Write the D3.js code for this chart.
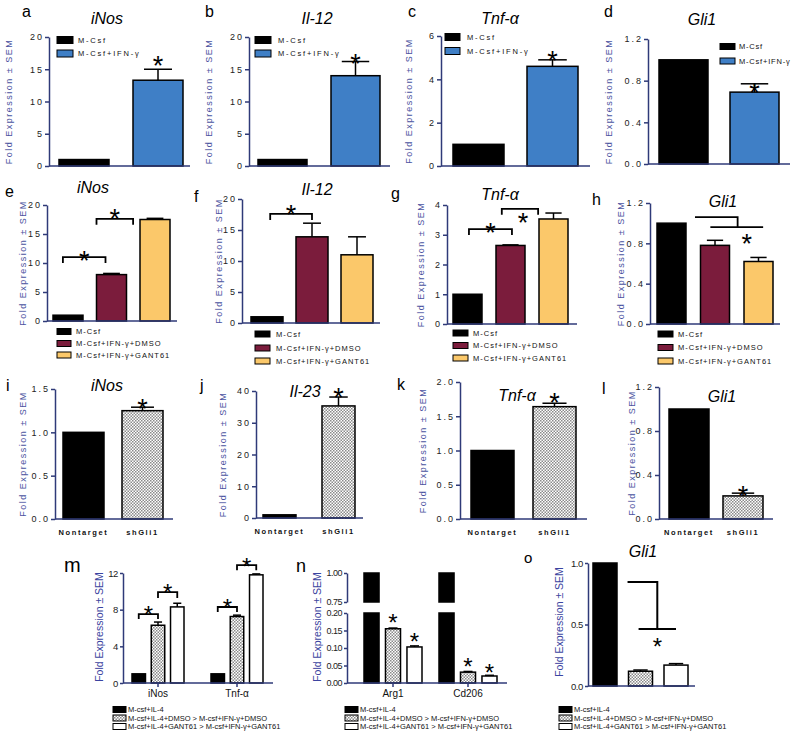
<!DOCTYPE html>
<html><head><meta charset="utf-8">
<script src="https://cdn.jsdelivr.net/npm/d3@7"></script>
<style>body{margin:0;background:#fff} svg{display:block}</style>
</head><body>
<script>
// ---------------- data ----------------
const catsAD = ["M-Csf", "M-Csf+IFN-γ"];
const catsEH = ["M-Csf", "M-Csf+IFN-γ+DMSO", "M-Csf+IFN-γ+GANT61"];
const catsIL = ["Nontarget", "shGli1"];
const seriesMO = ["M-csf+IL-4", "M-csf+IL-4+DMSO > M-csf+IFN-γ+DMSO", "M-csf+IL-4+GANT61 > M-csf+IFN-γ+GANT61"];
const genesM = ["iNos", "Tnf-α"];
const genesN = ["Arg1", "Cd206"];

const aMean = [1, 13.3], aSem = [0, 1.7];
const bMean = [1, 14.0], bSem = [0, 2.2];
const cMean = [1, 4.6], cSem = [0, 0.3];
const dMean = [1, 0.69], dSem = [0, 0.08];
const eMean = [1, 8.0, 17.5], eSem = [0, 0.2, 0.2];
const fMean = [1, 13.9, 11.0], fSem = [0, 2.2, 2.9];
const gMean = [1, 2.64, 3.53], gSem = [0, 0.02, 0.2];
const hMean = [1, 0.78, 0.62], hSem = [0, 0.05, 0.04];
const iMean = [1, 1.25], iSem = [0, 0.04];
const jMean = [1, 35.3], jSem = [0, 2.8];
const kMean = [1, 1.64], kSem = [0, 0.05];
const lMean = [1, 0.21], lSem = [0, 0.025];
const mIL4 = [1, 1], mDMSO = [6.3, 7.25], mGANT = [8.3, 11.8];
const mIL4Sem = [0, 0], mDMSOSem = [0.35, 0.15], mGANTSem = [0.4, 0.1];
const nIL4 = [1, 1], nDMSO = [0.155, 0.031], nGANT = [0.103, 0.02];
const nIL4Sem = [0, 0], nDMSOSem = [0.002, 0.002], nGANTSem = [0.003, 0.002];
const oMean = [1, 0.12, 0.17], oSem = [0, 0.01, 0.012];

const ticks20 = [0, 5, 10, 15, 20], ticks6 = [0, 2, 4, 6], ticks12 = [0, 0.4, 0.8, 1.2], ticks4 = [0, 1, 2, 3, 4];
const ticks15 = [0, 0.5, 1, 1.5], ticks40 = [0, 10, 20, 30, 40], ticks2 = [0, 0.5, 1, 1.5, 2];
const ticksM = [0, 4, 8, 12], ticksNlow = [0, 0.05, 0.1, 0.15, 0.2], ticksNhigh = [0.75, 1.0], ticksO = [0, 0.5, 1];

// ---------------- style ----------------
const FONT = "'Liberation Sans', Arial, Helvetica, sans-serif";
const AXIS = "#2f3a78", YLAB = "#4a52a0";
const BLUE = "#3f7fc6", MAROON = "#7b1c3c", YELLOW = "#fbc86a", CHK = "url(#chk)";
const YTXT = "Fold Expression ± SEM";

const svg = d3.select("body").append("svg").attr("width", 800).attr("height", 733).style("font-family", FONT);
const defs = svg.append("defs");
const pat = defs.append("pattern").attr("id", "chk").attr("patternUnits", "userSpaceOnUse").attr("width", 3).attr("height", 3);
pat.append("rect").attr("width", 3).attr("height", 3).attr("fill", "#fff");
pat.append("rect").attr("width", 1.5).attr("height", 1.5).attr("fill", "#8a8a8a");
pat.append("rect").attr("x", 1.5).attr("y", 1.5).attr("width", 1.5).attr("height", 1.5).attr("fill", "#8a8a8a");

function bandFor(cats, x0, x1, w) {
  const n = cats.length, gap = ((x1 - x0) - n * w) / (n - 1), p = gap / (w + gap);
  return d3.scaleBand().domain(cats).range([x0, x1]).paddingInner(p).paddingOuter(0);
}
function star(x, cy, size) {
  size = size || 27;
  svg.append("text").attr("x", x).attr("y", cy + size * 0.575).attr("text-anchor", "middle")
    .attr("font-size", size).attr("fill", "#000").text("*");
}
function line(x1, y1, x2, y2, col, w) {
  svg.append("line").attr("x1", x1).attr("y1", y1).attr("x2", x2).attr("y2", y2)
    .attr("stroke", col || "#000").attr("stroke-width", w || 1.5);
}
function errBar(cx, yv, ye, half) {
  line(cx, yv, cx, ye, "#000", 1.5);
  line(cx - half, ye, cx + half, ye, "#000", 1.5);
}
function yLabel(x, cy, size, ls, weight, col) {
  svg.append("text").attr("transform", `translate(${x},${cy}) rotate(-90)`).attr("dy", "0.35em")
    .attr("text-anchor", "middle").attr("font-size", size).attr("letter-spacing", ls)
    .attr("font-weight", weight).attr("fill", col).text(YTXT);
}
function letter(t, x, y, size) {
  svg.append("text").attr("x", x).attr("y", y).attr("font-size", size || 16).attr("fill", "#000").text(t);
}
function title(t, x, y) {
  svg.append("text").attr("x", x).attr("y", y).attr("text-anchor", "middle").attr("font-size", 16)
    .attr("font-style", "italic").attr("fill", "#000").text(t);
}
function yAxis(scale, ax, ticks, fmt, size, ls, tlen) {
  const g = svg.append("g").attr("transform", `translate(${ax},0)`)
    .call(d3.axisLeft(scale).tickValues(ticks).tickFormat(fmt).tickSize(tlen || 4).tickSizeOuter(0).tickPadding(ls > 0 ? 1 : 2));
  g.attr("font-family", FONT);
  g.select(".domain").attr("stroke", AXIS).attr("stroke-width", 1.5);
  g.selectAll(".tick line").attr("stroke", AXIS).attr("stroke-width", 1.5);
  g.selectAll(".tick text").attr("font-size", size).attr("letter-spacing", ls).attr("fill", "#222");
  return g;
}

// ---------------- panels a-l ----------------
const simplePanels = [
  { L: "a", lx: 22, ly: 17, title: "iNos", tx: 107, ty: 24, cats: catsAD, mean: aMean, sem: aSem, fills: ["#000", BLUE],
    ticks: ticks20, fmt: d3.format("d"), ax: 49, xEnd: 190, y0: 166, yTop: 37, bx0: 59, bx1: 183, bw: 50, ylx: 8.5,
    legend: { x: 57, ys: [40, 53.5], w: 16, h: 7, tx: 78, ls: 1.8 }, stars: [{ i: 1, dy: -10 }] },
  { L: "b", lx: 205, ly: 17, title: "Il-12", tx: 317, ty: 24, cats: catsAD, mean: bMean, sem: bSem, fills: ["#000", BLUE],
    ticks: ticks20, fmt: d3.format("d"), ax: 249, xEnd: 390, y0: 166, yTop: 37, bx0: 258, bx1: 380, bw: 49, ylx: 208.5,
    legend: { x: 255, ys: [40, 53.5], w: 16, h: 7, tx: 278, ls: 1.8 }, stars: [{ i: 1, dy: -4 }] },
  { L: "c", lx: 408, ly: 17, title: "Tnf-α", tx: 500, ty: 24, cats: catsAD, mean: cMean, sem: cSem, fills: ["#000", BLUE],
    ticks: ticks6, fmt: d3.format("d"), ax: 441, xEnd: 590, y0: 166, yTop: 36, bx0: 453, bx1: 578, bw: 51, ylx: 408.5,
    legend: { x: 445, ys: [37, 51], w: 15, h: 7, tx: 467, ls: 1.8 }, stars: [{ i: 1, dy: -5 }] },
  { L: "d", lx: 604, ly: 17, title: "Gli1", tx: 702, ty: 25, cats: catsAD, mean: dMean, sem: dSem, fills: ["#000", BLUE],
    ticks: ticks12, fmt: d3.format(".1f"), ax: 648, xEnd: 790, y0: 164, yTop: 39, bx0: 659, bx1: 779, bw: 49, ylx: 609,
    legend: { x: 720, ys: [46.5, 61], w: 15, h: 6, tx: 739, ls: 0.8 }, stars: [{ i: 1, dy: 3 }] },
  { L: "e", lx: 5, ly: 197, title: "iNos", tx: 93, ty: 193, cats: catsEH, mean: eMean, sem: eSem, fills: ["#000", MAROON, YELLOW],
    ticks: ticks20, fmt: d3.format("d"), ax: 47, xEnd: 177, y0: 321, yTop: 205, bx0: 53, bx1: 170, bw: 30, ylx: 22.5,
    legend: { x: 57, ys: [331.5, 343.5, 355], w: 14, h: 6, tx: 76, ls: 1 },
    brackets: [{ a: [0, 0.33], b: [1, 0.3], top: 11.0, leg: 1.0, sdy: -3 }, { a: [1, 0], b: [2, -0.23], top: 17.6, leg: 1.0, sdy: -6 }] },
  { L: "f", lx: 194, ly: 202, title: "Il-12", tx: 317, ty: 195, cats: catsEH, mean: fMean, sem: fSem, fills: ["#000", MAROON, YELLOW],
    ticks: ticks20, fmt: d3.format("d"), ax: 242, xEnd: 380, y0: 323, yTop: 199, bx0: 251, bx1: 373, bw: 32, ylx: 219,
    legend: { x: 255, ys: [334, 348, 361], w: 15, h: 6, tx: 276, ls: 1 },
    brackets: [{ a: [0, 0.6], b: [1, 0.5], top: 17.6, leg: 1.0, sdy: -5 }] },
  { L: "g", lx: 391, ly: 199, title: "Tnf-α", tx: 500, ty: 200, cats: catsEH, mean: gMean, sem: gSem, fills: ["#000", MAROON, YELLOW],
    ticks: ticks4, fmt: d3.format("d"), ax: 447, xEnd: 577, y0: 324, yTop: 205, bx0: 453, bx1: 568, bw: 29, ylx: 420.5,
    legend: { x: 453, ys: [333, 345.5, 358], w: 15, h: 6, tx: 473, ls: 1 },
    brackets: [{ a: [0, 0.55], b: [1, 0.55], top: 3.19, leg: 0.2, sdy: -3 }, { a: [1, 0.2], b: [2, -0.03], top: 3.87, leg: 0.2, sdy: 8, sdx: 3 }] },
  { L: "h", lx: 592, ly: 205, title: "Gli1", tx: 723, ty: 207, cats: catsEH, mean: hMean, sem: hSem, fills: ["#000", MAROON, YELLOW],
    ticks: ticks12, fmt: d3.format(".1f"), ax: 650, xEnd: 780, y0: 324, yTop: 203, bx0: 657, bx1: 773, bw: 29, ylx: 620.5,
    legend: { x: 658, ys: [334, 347.5, 361], w: 15, h: 6, tx: 678, ls: 1 },
    steps: [{ l1: [[0, 1.31], [1, 1.28]], top: 1.06, l2: [[1, 0.34], [2, 0.66]], low: 0.96, sdx: 10, sdy: 10 }] },
  { L: "i", lx: 6, ly: 391, title: "iNos", tx: 107, ty: 391, cats: catsIL, mean: iMean, sem: iSem, fills: ["#000", CHK],
    ticks: ticks15, fmt: d3.format(".1f"), ax: 55, xEnd: 173, y0: 519, yTop: 389, bx0: 63, bx1: 163, bw: 41, ylx: 22.5,
    xlabels: true, stars: [{ i: 1, dy: -5 }] },
  { L: "j", lx: 200, ly: 391, title: "Il-23", tx: 305, ty: 397, cats: catsIL, mean: jMean, sem: jSem, fills: ["#000", CHK],
    ticks: ticks40, fmt: d3.format("d"), ax: 256, xEnd: 363, y0: 518, yTop: 391, bx0: 263, bx1: 355, bw: 33, ylx: 222.5,
    xlabels: true, stars: [{ i: 1, dy: -6 }] },
  { L: "k", lx: 397, ly: 390, title: "Tnf-α", tx: 517, ty: 401, cats: catsIL, mean: kMean, sem: kSem, fills: ["#000", CHK],
    ticks: ticks2, fmt: d3.format(".1f"), ax: 460, xEnd: 587, y0: 519, yTop: 382, bx0: 471, bx1: 576, bw: 43, ylx: 422.5,
    xlabels: true, stars: [{ i: 1, dy: -7 }] },
  { L: "l", lx: 602, ly: 394, title: "Gli1", tx: 722, ty: 402, cats: catsIL, mean: lMean, sem: lSem, fills: ["#000", CHK],
    ticks: ticks12, fmt: d3.format(".1f"), ax: 659, xEnd: 773, y0: 519, yTop: 387, bx0: 669, bx1: 763, bw: 40, ylx: 631.5,
    xlabels: true, stars: [{ i: 1, dy: -4 }] }
];

simplePanels.forEach(p => {
  const y = d3.scaleLinear().domain([0, d3.max(p.ticks)]).range([p.y0, p.yTop]);
  const x = bandFor(p.cats, p.bx0, p.bx1, p.bw);
  const bw = x.bandwidth();
  const cx = (i) => x(p.cats[i]) + bw / 2;
  const fx = (a) => x(p.cats[a[0]]) + a[1] * bw;

  letter(p.L, p.lx, p.ly, 16);
  title(p.title, p.tx, p.ty);
  yLabel(p.ylx, (p.y0 + p.yTop) / 2, 9, 1.5, "normal", YLAB);

  svg.append("g").selectAll("rect").data(p.cats).join("rect")
    .attr("x", d => x(d)).attr("y", (d, i) => y(p.mean[i]))
    .attr("width", bw).attr("height", (d, i) => p.y0 - y(p.mean[i]))
    .attr("fill", (d, i) => p.fills[i]).attr("stroke", "#000").attr("stroke-width", 1.5);
  p.cats.forEach((c, i) => { if (p.sem[i] > 0) errBar(cx(i), y(p.mean[i]), y(p.mean[i] + p.sem[i]), bw * 0.28); });

  line(p.ax, p.y0, p.xEnd, p.y0, AXIS, 1.5);
  yAxis(y, p.ax, p.ticks, p.fmt, 9, 2);

  (p.stars || []).forEach(s => star(cx(s.i), y(p.mean[s.i] + p.sem[s.i]) + s.dy));
  (p.brackets || []).forEach(b => {
    const xa = fx(b.a), xb = fx(b.b), yt = y(b.top), yl = y(b.top - b.leg);
    svg.append("path").attr("d", `M${xa},${yl}V${yt}H${xb}V${yl}`).attr("fill", "none").attr("stroke", "#000").attr("stroke-width", 1.8);
    star((xa + xb) / 2 + (b.sdx || 0), yt + b.sdy);
  });
  (p.steps || []).forEach(s => {
    const a1 = fx(s.l1[0]), b1 = fx(s.l1[1]), a2 = fx(s.l2[0]), b2 = fx(s.l2[1]);
    const yt = y(s.top), yl = y(s.low);
    svg.append("path").attr("d", `M${a1},${yt}H${b1}V${yl}`).attr("fill", "none").attr("stroke", "#000").attr("stroke-width", 1.8);
    line(a2, yl, b2, yl, "#000", 1.8);
    star((a2 + b2) / 2 + s.sdx, yl + s.sdy);
  });

  if (p.legend) {
    const L = p.legend;
    p.cats.forEach((c, i) => {
      svg.append("rect").attr("x", L.x).attr("y", L.ys[i] - L.h / 2).attr("width", L.w).attr("height", L.h)
        .attr("fill", p.fills[i]).attr("stroke", "#000").attr("stroke-width", 1);
      svg.append("text").attr("x", L.tx).attr("y", L.ys[i] + 2.8).attr("font-size", 7.5)
        .attr("letter-spacing", L.ls).attr("fill", "#111").text(c);
    });
  }
  if (p.xlabels) {
    const g = svg.append("g").attr("transform", `translate(0,${p.y0})`)
      .call(d3.axisBottom(x).tickSize(0).tickPadding(10.5));
    g.attr("font-family", FONT);
    g.select(".domain").remove();
    g.selectAll(".tick text").attr("font-size", 7.5).attr("font-weight", "bold").attr("letter-spacing", 1.6).attr("fill", "#111");
  }
});

// ---------------- legends m-o ----------------
const fillsMO = ["#000", CHK, "#fff"];
function legendMO(x) {
  const ys = [709.5, 718, 726.5];
  seriesMO.forEach((s, i) => {
    svg.append("rect").attr("x", x).attr("y", ys[i] - 3).attr("width", 13).attr("height", 6)
      .attr("fill", fillsMO[i]).attr("stroke", "#000").attr("stroke-width", 1);
    svg.append("text").attr("x", x + 15).attr("y", ys[i] + 2.8).attr("font-size", 7.5).attr("fill", "#111").text(s);
  });
}
const MO_TICK = 9.5, MO_LS = -0.4;

// ---------------- panel m ----------------
(function () {
  const y0 = 683;
  const y = d3.scaleLinear().domain([0, 12]).range([y0, 573]);
  const gx = bandFor(genesM, 132, 263, 52);
  const sx = d3.scaleBand().domain(seriesMO).range([0, gx.bandwidth()]).paddingInner(0.3);
  const means = [mIL4, mDMSO, mGANT], sems = [mIL4Sem, mDMSOSem, mGANTSem];
  const bw = sx.bandwidth();
  const cx = (g, s) => gx(genesM[g]) + sx(seriesMO[s]) + bw / 2;

  letter("m", 64, 572, 20);
  yLabel(99.5, 627, 10.5, 0, "normal", "#3b44a0");
  seriesMO.forEach((s, si) => {
    svg.append("g").selectAll("rect").data(genesM).join("rect")
      .attr("x", d => gx(d) + sx(s)).attr("y", (d, gi) => y(means[si][gi]))
      .attr("width", bw).attr("height", (d, gi) => y0 - y(means[si][gi]))
      .attr("fill", fillsMO[si]).attr("stroke", "#000").attr("stroke-width", 1.5);
    genesM.forEach((g, gi) => { if (sems[si][gi] > 0) errBar(cx(gi, si), y(means[si][gi]), y(means[si][gi] + sems[si][gi]), bw * 0.3); });
  });
  line(123, y0, 273, y0, AXIS, 1.5);
  const gb = svg.append("g").attr("transform", `translate(0,${y0})`).call(d3.axisBottom(gx).tickSize(4).tickPadding(3));
  gb.attr("font-family", FONT); gb.select(".domain").remove();
  gb.selectAll(".tick line").attr("stroke", AXIS).attr("stroke-width", 1.5);
  gb.selectAll(".tick text").attr("font-size", 10).attr("fill", "#111");
  yAxis(y, 123, ticksM, d3.format("d"), MO_TICK, MO_LS, 3);

  const brackets = [
    { g: 0, a: 0, b: 1, top: 7.52, leg: 0.55, sdy: -5 }, { g: 0, a: 1, b: 2, top: 9.92, leg: 0.65, sdy: -5 },
    { g: 1, a: 0, b: 1, top: 8.29, leg: 0.55, sdy: -5 }, { g: 1, a: 1, b: 2, top: 12.87, leg: 0.57, sdy: -4 }
  ];
  brackets.forEach(b => {
    const xa = cx(b.g, b.a), xb = cx(b.g, b.b), yt = y(b.top), yl = y(b.top - b.leg);
    svg.append("path").attr("d", `M${xa},${yl}V${yt}H${xb}V${yl}`).attr("fill", "none").attr("stroke", "#000").attr("stroke-width", 1.8);
    star((xa + xb) / 2, yt + b.sdy, 24);
  });
  legendMO(113);
})();

// ---------------- panel n (broken axis) ----------------
(function () {
  const y0 = 683;
  const yLow = d3.scaleLinear().domain([0, 0.2]).range([y0, 613]);
  const yHigh = d3.scaleLinear().domain([0.75, 1.0]).range([602, 573]);
  const gx = bandFor(genesN, 364, 497, 58);
  const sx = d3.scaleBand().domain(seriesMO).range([0, gx.bandwidth()]).paddingInner(0.3);
  const means = [nIL4, nDMSO, nGANT], sems = [nIL4Sem, nDMSOSem, nGANTSem];
  const bw = sx.bandwidth();
  const cx = (g, s) => gx(genesN[g]) + sx(seriesMO[s]) + bw / 2;

  letter("n", 296, 572, 18);
  yLabel(317, 627, 10.5, 0, "normal", "#3b44a0");
  seriesMO.forEach((s, si) => {
    genesN.forEach((g, gi) => {
      const v = means[si][gi], xx = gx(g) + sx(s);
      if (v > 0.2) {
        svg.append("rect").attr("x", xx).attr("y", yLow(0.2)).attr("width", bw).attr("height", y0 - yLow(0.2))
          .attr("fill", fillsMO[si]).attr("stroke", "#000").attr("stroke-width", 1.5);
        svg.append("rect").attr("x", xx).attr("y", yHigh(v)).attr("width", bw).attr("height", yHigh(0.75) - yHigh(v))
          .attr("fill", fillsMO[si]).attr("stroke", "#000").attr("stroke-width", 1.5);
      } else {
        svg.append("rect").attr("x", xx).attr("y", yLow(v)).attr("width", bw).attr("height", y0 - yLow(v))
          .attr("fill", fillsMO[si]).attr("stroke", "#000").attr("stroke-width", 1.5);
        if (sems[si][gi] > 0) errBar(cx(gi, si), yLow(v), yLow(v + sems[si][gi]), bw * 0.3);
      }
    });
  });
  line(347, y0, 507, y0, AXIS, 1.5);
  const gb = svg.append("g").attr("transform", `translate(0,${y0})`).call(d3.axisBottom(gx).tickSize(4).tickPadding(3));
  gb.attr("font-family", FONT); gb.select(".domain").remove();
  gb.selectAll(".tick line").attr("stroke", AXIS).attr("stroke-width", 1.5);
  gb.selectAll(".tick text").attr("font-size", 10).attr("fill", "#111");
  yAxis(yLow, 347, ticksNlow, d3.format(".2f"), 9, -0.5, 3);
  yAxis(yHigh, 347, ticksNhigh, d3.format(".2f"), 9, -0.5, 3);

  const stars = [{ g: 0, s: 1, dy: -11 }, { g: 0, s: 2, dy: -10 }, { g: 1, s: 1, dy: -10.5 }, { g: 1, s: 2, dy: -8 }];
  stars.forEach(s => star(cx(s.g, s.s), yLow(means[s.s][s.g] + sems[s.s][s.g]) + s.dy, 24));
  legendMO(345);
})();

// ---------------- panel o ----------------
(function () {
  const y0 = 686;
  const y = d3.scaleLinear().domain([0, 1]).range([y0, 563]);
  const x = bandFor(seriesMO, 593, 688, 24);
  const bw = x.bandwidth();
  const fx = (a) => x(seriesMO[a[0]]) + a[1] * bw;

  letter("o", 524, 563, 15);
  title("Gli1", 643, 557);
  yLabel(559.5, 622, 10.5, 0, "normal", "#3b44a0");
  svg.append("g").selectAll("rect").data(seriesMO).join("rect")
    .attr("x", d => x(d)).attr("y", (d, i) => y(oMean[i]))
    .attr("width", bw).attr("height", (d, i) => y0 - y(oMean[i]))
    .attr("fill", (d, i) => fillsMO[i]).attr("stroke", "#000").attr("stroke-width", 1.5);
  seriesMO.forEach((s, i) => { if (oSem[i] > 0) errBar(x(s) + bw / 2, y(oMean[i]), y(oMean[i] + oSem[i]), bw * 0.3); });
  line(588, y0, 695, y0, AXIS, 1.5);
  yAxis(y, 588, ticksO, d3.format(".1f"), MO_TICK, MO_LS, 3);

  const st = { l1: [[1, -0.04], [1, 1.2]], top: 0.845, l2: [[1, 0.42], [2, 0.5]], low: 0.463, sdy: 12 };
  const a1 = fx(st.l1[0]), b1 = fx(st.l1[1]), a2 = fx(st.l2[0]), b2 = fx(st.l2[1]);
  svg.append("path").attr("d", `M${a1},${y(st.top)}H${b1}V${y(st.low)}`).attr("fill", "none").attr("stroke", "#000").attr("stroke-width", 2);
  line(a2, y(st.low), b2, y(st.low), "#000", 2);
  star(b1, y(st.low) + st.sdy, 24);
  legendMO(559);
})();
</script>
</body></html>
